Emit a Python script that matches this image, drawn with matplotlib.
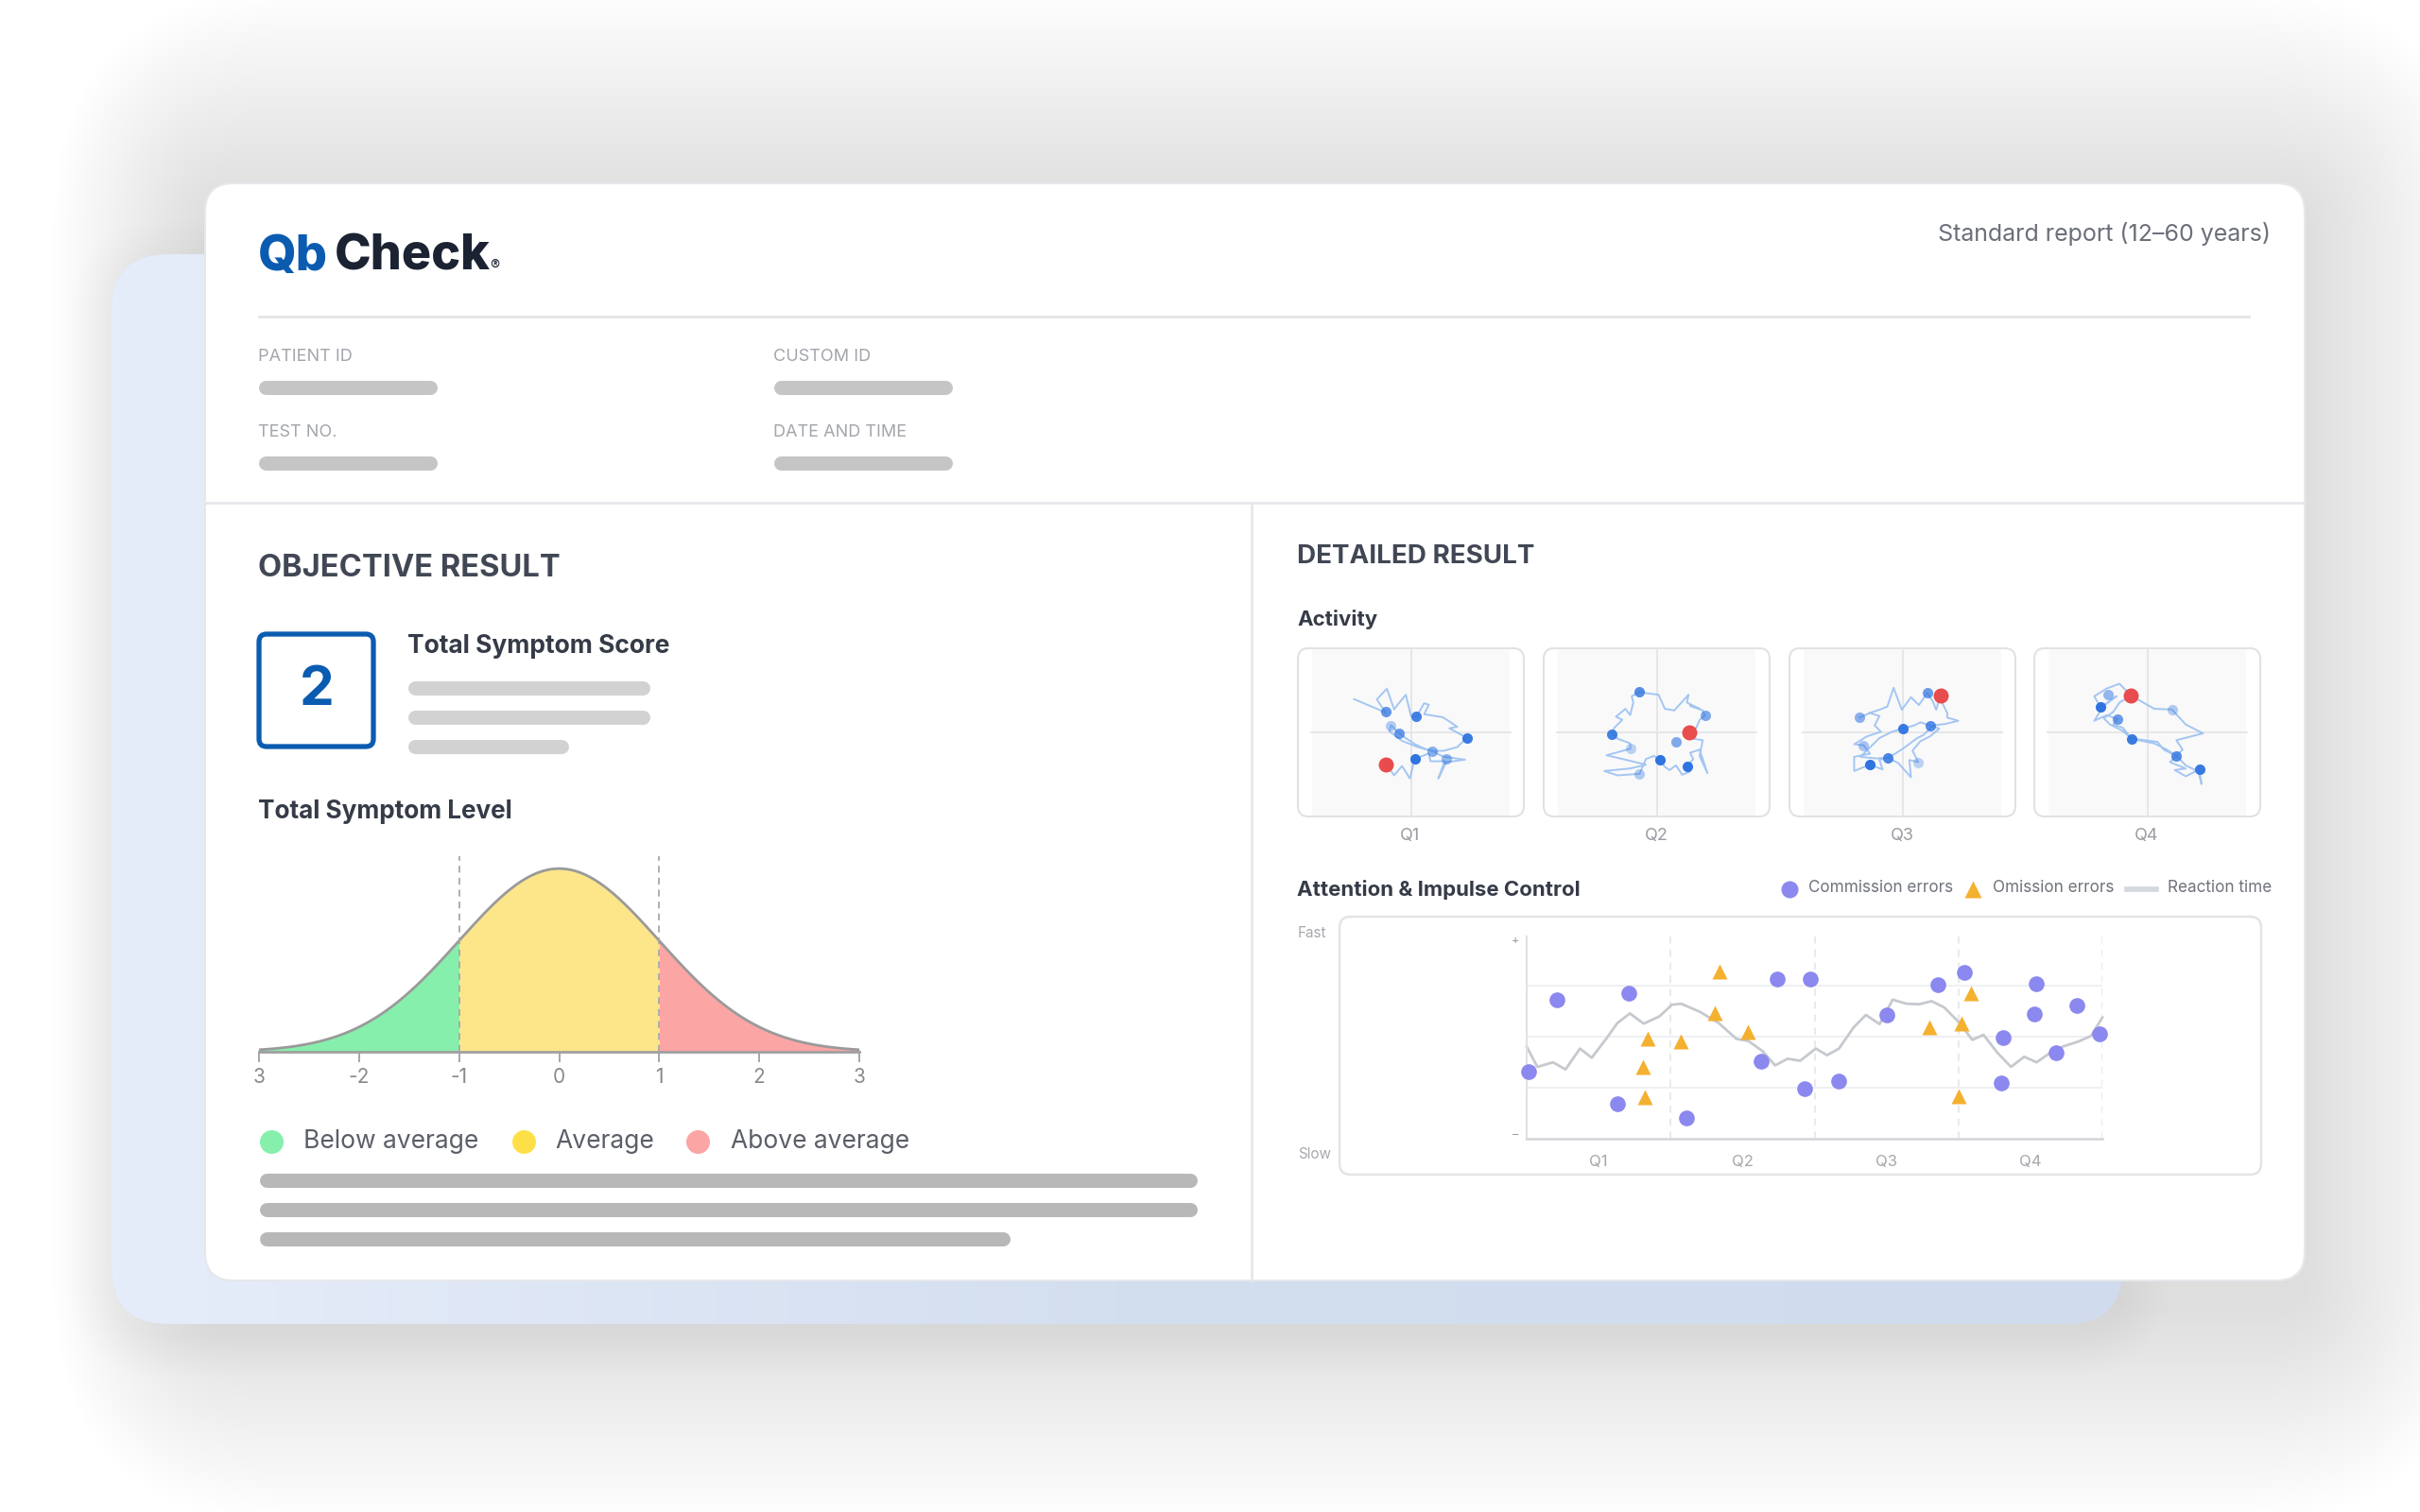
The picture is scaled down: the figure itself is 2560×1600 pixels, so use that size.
# coding: utf-8

import numpy as np
import matplotlib
matplotlib.use('agg')
import matplotlib.pyplot as plt
from matplotlib.patches import FancyBboxPatch
from matplotlib.colors import LinearSegmentedColormap

plt.rcParams['font.family'] = ['Inter', 'DejaVu Sans']

W, H = 2560, 1600

# ---- data -------------------------------------------------------------
symptom_score = 2
level_ticks = [-3, -2, -1, 0, 1, 2, 3]
level_ticklabels = ['3', '-2', '-1', '0', '1', '2', '3']
level_edges = [-3, -1, 1, 3]
level_names = ['Below average', 'Average', 'Above average']
level_fill = ['#86efac', '#fde68a', '#fca5a5']
level_dot = ['#86efac', '#fde047', '#fca5a5']

quarters = ['Q1', 'Q2', 'Q3', 'Q4']

# activity traces (head position offsets, arbitrary units)
act_path_x = [
    [-180, -80, -108, -76, -53, -38, -16, 0, 17, 42, 57, 42, 102, 147, 122, 177, 147, 102, 67, 42,
     12, -18, -38, -63, -68, -28, 22, 67, 102, 172, 112, 87, 107, 62, 57, 12, -3, -28, -53, -78],
    [-54, -79, -74, -84, -99, -129, -109, -134, -141, -124, -84, -83, -159, -99, -34, -84, -166, -124,
     -54, -34, -9, 9, 26, 41, 61, 81, 106, 97, 116, 106, 136, 161, 136, 146, 116, 103, 126, 136, 153,
     146, 106, 136, 96, 101, 56, 26, 6, -34, -54],
    [-136, -103, -73, -88, -68, -113, -153, -123, -103, -153, -153, -103, -63, -73, -47, -13, 27, 22,
     50, 32, 57, 87, 117, 87, 57, 37, 1, -33, -73, -103, -133, -83, -47, -23, 7, 47, 67, 97, 137, 177,
     142, 142, 127, 120, 107, 97, 79, 52, 27, -2, -28, -48, -73, -103],
    [-51, -88, -128, -168, -148, -118, -98, -138, -168, -128, -94, -108, -78, -50, -8, 32, 52, 92, 72,
     122, 87, 122, 165, 172, 162, 122, 92, 62, 22, -28, -50, -78, -118, -138, -108, -88, -51, 22, 78,
     122, 177, 92, 112, 92],
]
act_path_y = [
    [106, 63, 105, 139, 73, 93, 120, 53, 48, 93, 88, 58, 48, 18, 13, -17, -47, -59, -59, -52,
     -37, -17, -2, 23, 3, -27, -47, -59, -77, -87, -95, -147, -92, -92, -67, -85, -147, -107, -137, -102],
    [130, 115, 95, 55, 75, 50, 40, 15, -5, -20, -35, -52, -73, -87, -103, -115, -123, -137,
     -132, -85, -75, -87, -110, -120, -105, -135, -125, -108, -85, -65, -55, -130, -75, -25, -20, 0, 15,
     40, 53, 70, 85, 75, 95, 120, 70, 75, 120, 125, 130],
    [47, 62, 52, 22, 2, -13, -38, -41, -68, -78, -123, -103, -118, -88, -80, -98, -143, -88,
     -95, -58, -28, -13, 12, 22, 32, 22, 12, 2, -18, -48, -78, -83, -80, -68, -48, -18, -8, 22, 27, 37,
     47, 62, 92, 118, 72, 97, 126, 87, 112, 72, 142, 82, 72, 62],
    [117, 155, 140, 115, 80, 100, 115, 85, 37, 55, 42, 25, 15, -20, -25, -30, -55, -75, -95,
     -115, -120, -140, -118, -165, -125, -105, -75, -55, -35, -25, -20, 5, 25, 45, 65, 95, 117, 75, 73,
     25, -3, -25, -55, -75],
]
act_dot_x = [[-78, 17, -63, -38, 177, 67, 112, 12],
             [-54, 153, -141, 62, -83, 9, 97, -54],
             [-136, 79, 1, 87, -123, -47, -103, 50],
             [-123, -148, 78, -94, -50, 92, 165]]
act_dot_y = [[66, 50, 21, -2, -19, -59, -84, -85],
             [130, 53, -5, -29, -52, -87, -108, -132],
             [47, 126, 12, 22, -41, -80, -103, -95],
             [120, 80, 73, 42, -20, -75, -118]]
act_dot_alpha = [[0.75, 0.9, 0.35, 0.7, 0.95, 0.55, 0.5, 1.0],
                 [0.8, 0.6, 0.9, 0.6, 0.3, 1.0, 1.0, 0.35],
                 [0.55, 0.7, 0.95, 0.8, 0.4, 0.85, 1.0, 0.3],
                 [0.5, 1.0, 0.35, 0.7, 0.95, 0.8, 0.95]]
act_red_x = [-78, 103, 120, -51]
act_red_y = [-102, 0, 118, 117]

# attention & impulse control
comm_x = [0.01, 0.21, 0.71, 0.63, 1.11, 1.63, 1.74, 1.97, 1.93, 2.17,
          2.50, 2.86, 3.04, 3.31, 3.30, 3.54, 3.53, 3.68, 3.82, 3.98]
comm_y = [1.32, 2.73, 2.86, 0.68, 0.41, 1.52, 3.13, 3.14, 0.99, 1.14,
          2.43, 3.03, 3.26, 1.99, 1.09, 3.04, 2.45, 1.69, 2.62, 2.05]
omis_x = [1.34, 1.31, 1.54, 0.84, 1.07, 0.81, 0.82, 3.09, 2.80, 3.02, 3.00]
omis_y = [3.28, 2.46, 2.10, 1.96, 1.92, 1.41, 0.81, 2.86, 2.18, 2.26, 0.83]
rt_x = [0, 0.074, 0.183, 0.27, 0.37, 0.452, 0.552, 0.63, 0.717, 0.813, 0.922, 1.009, 1.074, 1.204,
        1.335, 1.457, 1.539, 1.639, 1.726, 1.813, 1.9, 2.009, 2.087, 2.17, 2.27, 2.357, 2.452, 2.543,
        2.639, 2.726, 2.813, 2.9, 3.009, 3.096, 3.174, 3.27, 3.365, 3.457, 3.543, 3.639, 3.726, 3.835,
        3.922, 4.0]
rt_y = [1.81, 1.41, 1.5, 1.36, 1.77, 1.59, 1.96, 2.27, 2.46, 2.26, 2.40, 2.63, 2.65, 2.49,
        2.27, 1.96, 1.92, 1.72, 1.44, 1.57, 1.53, 1.77, 1.64, 1.77, 2.18, 2.43, 2.25, 2.73,
        2.65, 2.64, 2.70, 2.58, 2.27, 1.94, 2.04, 1.69, 1.41, 1.61, 1.5, 1.69, 1.81, 1.91,
        2.02, 2.38]

BLUE = '#0b5cb0'
DARK = '#353b47'
COMM = '#8b88ef'
OMIS = '#f4b02f'

fig = plt.figure(figsize=(25.6, 16), dpi=100)
fig.patch.set_facecolor('white')
bg = fig.add_axes([0, 0, 1, 1])
bg.set_xlim(0, W)
bg.set_ylim(H, 0)
bg.axis('off')


def rbox(x0, y0, x1, y1, r, fc, ec='none', lw=0, z=1, alpha=1.0):
    p = FancyBboxPatch((x0, y0), x1 - x0, y1 - y0,
                       boxstyle='round,pad=0,rounding_size=%g' % r,
                       fc=fc, ec=ec, lw=lw, zorder=z, alpha=alpha)
    bg.add_patch(p)
    return p


def pill(x0, x1, y, h, color):
    bg.plot([x0 + h / 2, x1 - h / 2], [y, y], color=color, lw=h * 0.72,
            solid_capstyle='round', zorder=5)


def px_axes(x0, y0, x1, y1):
    return fig.add_axes([x0 / W, 1 - y1 / H, (x1 - x0) / W, (y1 - y0) / H])


# ---- card backgrounds ---------------------------------------------------
for i in range(1, 34):
    d = i * 7
    rbox(217 - d * 0.7, 194 - d + 25, 2438 + d * 0.8, 1355 + d + 25, 30 + d, '#5d6b85',
         alpha=0.0023, z=0)
for i in range(1, 10):
    d = i * 5
    rbox(118 - d, 269 - d + 10, 2245 + d, 1401 + d + 10, 60 + d, '#7d93c2', alpha=0.005, z=0.5)
blue_card = rbox(118, 269, 2245, 1401, 60, '#d6e0f1', z=0.8)
grad = LinearSegmentedColormap.from_list('g', ['#e6edfa', '#d3deef', '#d0dbee'])
img = bg.imshow(np.linspace(0, 1, 256).reshape(1, -1), cmap=grad, aspect='auto',
                extent=(118, 2245, 1401, 269), zorder=0.9)
img.set_clip_path(blue_card)
bg.set_xlim(0, W)
bg.set_ylim(H, 0)
rbox(217, 194, 2438, 1355, 30, 'white', ec='#e6e8ec', lw=1.5, z=1)

# ---- header -----------------------------------------------------------------
bg.text(273, 286, 'Qb', fontsize=37.5, fontweight='heavy', color=BLUE, va='baseline', zorder=5)
bg.text(354, 286, 'Check', fontsize=37.5, fontweight='heavy', color='#1b2333', va='baseline', zorder=5)
bg.text(518, 286, '®', fontsize=11, color='#1b2333', va='baseline', zorder=5)
bg.text(2402, 248, 'Standard report (12–60 years)', fontsize=18, color='#6b6f7a',
        ha='right', va='center', zorder=5)
bg.plot([274, 2379], [335, 335], color='#e2e3e5', lw=2, zorder=3)

fields = [('PATIENT ID', 273, 377), ('CUSTOM ID', 818, 377),
          ('TEST NO.', 273, 457), ('DATE AND TIME', 818, 457)]
for name, x, y in fields:
    bg.text(x, y, name, fontsize=13, color='#a2a5ab', va='center', zorder=5)
    pill(x, x + 189, y + 33, 15, '#c5c5c5')

bg.plot([217, 2438], [532, 532], color='#e6e7ea', lw=2, zorder=3)
bg.plot([1324, 1324], [532, 1355], color='#e6e7ea', lw=2, zorder=3)

# ---- objective result -------------------------------------------------------
bg.text(273, 601, 'OBJECTIVE RESULT', fontsize=23.5, fontweight='bold', color='#414754',
        va='center', zorder=5)
rbox(274, 671, 395, 790, 8, 'white', ec=BLUE, lw=3.8, z=4)
bg.text(335, 731, str(symptom_score), fontsize=42, fontweight='bold', color=BLUE,
        ha='center', va='center', zorder=5)
bg.text(431, 684, 'Total Symptom Score', fontsize=19, fontweight='bold', color=DARK,
        va='center', zorder=5)
pill(431, 687, 728, 15, '#d2d2d2')
pill(431, 687, 759, 15, '#d2d2d2')
pill(431, 601, 790, 15, '#d2d2d2')
bg.text(273, 859, 'Total Symptom Level', fontsize=18.8, fontweight='bold', color=DARK,
        va='center', zorder=5)

ax_b = px_axes(274, 906, 909, 1113)
z = np.linspace(-3, 3, 601)
dens = np.exp(-z ** 2 / 2) / np.sqrt(2 * np.pi)
for k in range(3):
    m = (z >= level_edges[k]) & (z <= level_edges[k + 1])
    ax_b.fill_between(z[m], 0, dens[m], color=level_fill[k], lw=0)
ax_b.plot(z, dens, color='#9a9a9a', lw=2)
for e in level_edges[1:3]:
    ax_b.axvline(e, color='#a8a8a8', lw=1.3, ls=(0, (4, 3)))
ax_b.set_xlim(-3, 3)
ax_b.set_ylim(0, 0.426)
ax_b.set_facecolor('none')
for s in ['top', 'right', 'left']:
    ax_b.spines[s].set_visible(False)
ax_b.spines['bottom'].set_color('#a0a0a0')
ax_b.spines['bottom'].set_linewidth(2)
ax_b.set_yticks([])
ax_b.set_xticks(level_ticks)
ax_b.set_xticklabels(level_ticklabels)
ax_b.tick_params(axis='x', colors='#a0a0a0', labelcolor='#8a8a8a', labelsize=15,
                 length=8, width=1.3, pad=4)

leg_dot_x = [287, 554, 738]
leg_txt_x = [321, 587, 773]
for k in range(3):
    bg.plot(leg_dot_x[k], 1208, 'o', ms=18, color=level_dot[k], mec='none', zorder=5)
    bg.text(leg_txt_x[k], 1208, level_names[k], fontsize=19, color='#5b5f68',
            va='center', zorder=5)
pill(274, 1266, 1249, 15, '#b8b8b8')
pill(274, 1266, 1280, 15, '#b8b8b8')
pill(274, 1068, 1311, 15, '#b8b8b8')

# ---- detailed result --------------------------------------------------------
bg.text(1372, 589, 'DETAILED RESULT', fontsize=20, fontweight='bold', color='#414754',
        va='center', zorder=5)
bg.text(1372, 655, 'Activity', fontsize=16, fontweight='bold', color=DARK, va='center', zorder=5)

panel_x0 = [1373, 1633, 1893, 2152]
for k in range(4):
    x0 = panel_x0[k]
    rbox(x0, 686, x0 + 239, 864, 11, 'white', ec='#e1e2e5', lw=1.5, z=3)
    rbox(x0 + 15, 687, x0 + 224, 863, 0, '#f9f9fa', z=3.5)
    ax = px_axes(x0, 686, x0 + 239, 864)
    ax.set_xlim(-358, 358)
    ax.set_ylim(-268, 268)
    ax.axis('off')
    ax.axhline(0, color='#e4e5e8', lw=1.3, xmin=0.06, xmax=0.94)
    ax.axvline(0, color='#e4e5e8', lw=1.3)
    ax.plot(act_path_x[k], act_path_y[k], color='#95bdf0', lw=1.4, alpha=0.85)
    for dx, dy, a in zip(act_dot_x[k], act_dot_y[k], act_dot_alpha[k]):
        ax.plot(dx, dy, 'o', ms=8, color='#2f74e0', alpha=a, mec='none')
    ax.plot(act_red_x[k], act_red_y[k], 'o', ms=11.5, color='#e84c4c', mec='none')
    bg.text(x0 + 119, 885, quarters[k], fontsize=13, color='#9a9ca2', ha='center',
            va='center', zorder=5)

bg.text(1372, 942, 'Attention & Impulse Control', fontsize=16, fontweight='bold', color=DARK,
        va='center', zorder=5)
bg.plot(1893, 941, 'o', ms=13, color=COMM, mec='none', zorder=5)
bg.text(1913, 939, 'Commission errors', fontsize=12.3, color='#6f737b', va='center', zorder=5)
bg.plot(2087, 941, '^', ms=13, color=OMIS, mec='none', zorder=5)
bg.text(2108, 939, 'Omission errors', fontsize=12.3, color='#6f737b', va='center', zorder=5)
bg.plot([2250, 2281], [941, 941], color='#d3d7de', lw=4, zorder=5)
bg.text(2293, 939, 'Reaction time', fontsize=12.3, color='#6f737b', va='center', zorder=5)

rbox(1417, 970, 2392, 1243, 12, 'white', ec='#e3e4e7', lw=1.8, z=3)
bg.text(1373, 987, 'Fast', fontsize=11, color='#a6a8ad', va='center', zorder=5)
bg.text(1373, 1222, 'Slow', fontsize=11, color='#a6a8ad', va='center', zorder=5)

ax_a = px_axes(1615, 991, 2224, 1205)
ax_a.set_xlim(0, 4)
ax_a.set_ylim(0, 3.97)
ax_a.set_facecolor('none')
for y in [1, 2, 3]:
    ax_a.axhline(y, color='#eeeff1', lw=1.3, zorder=1)
for x in [1, 2, 3, 4]:
    ax_a.axvline(x, color='#e3e4e7', lw=1.1, ls=(0, (5, 4)), zorder=1)
ax_a.plot(rt_x, rt_y, color='#c6c9ce', lw=2, zorder=2, clip_on=False)
ax_a.plot(comm_x, comm_y, 'o', ms=12, color=COMM, mec='none', zorder=3, clip_on=False)
ax_a.plot(omis_x, omis_y, '^', ms=12, color=OMIS, mec='none', zorder=3, clip_on=False)
for s in ['top', 'right']:
    ax_a.spines[s].set_visible(False)
ax_a.spines['left'].set_color('#e0e1e4')
ax_a.spines['bottom'].set_color('#d6d8dc')
ax_a.spines['left'].set_linewidth(1.5)
ax_a.spines['bottom'].set_linewidth(2)
ax_a.set_yticks([3.9, 0.1])
ax_a.set_yticklabels(['+', '–'])
ax_a.set_xticks([0.5, 1.5, 2.5, 3.5])
ax_a.set_xticklabels(quarters)
ax_a.tick_params(axis='y', length=0, labelsize=9, labelcolor='#9a9ca2', pad=6)
ax_a.tick_params(axis='x', length=0, labelsize=12, labelcolor='#a6a8ad', pad=12)

fig.savefig('out.png', dpi=100, facecolor='white')
